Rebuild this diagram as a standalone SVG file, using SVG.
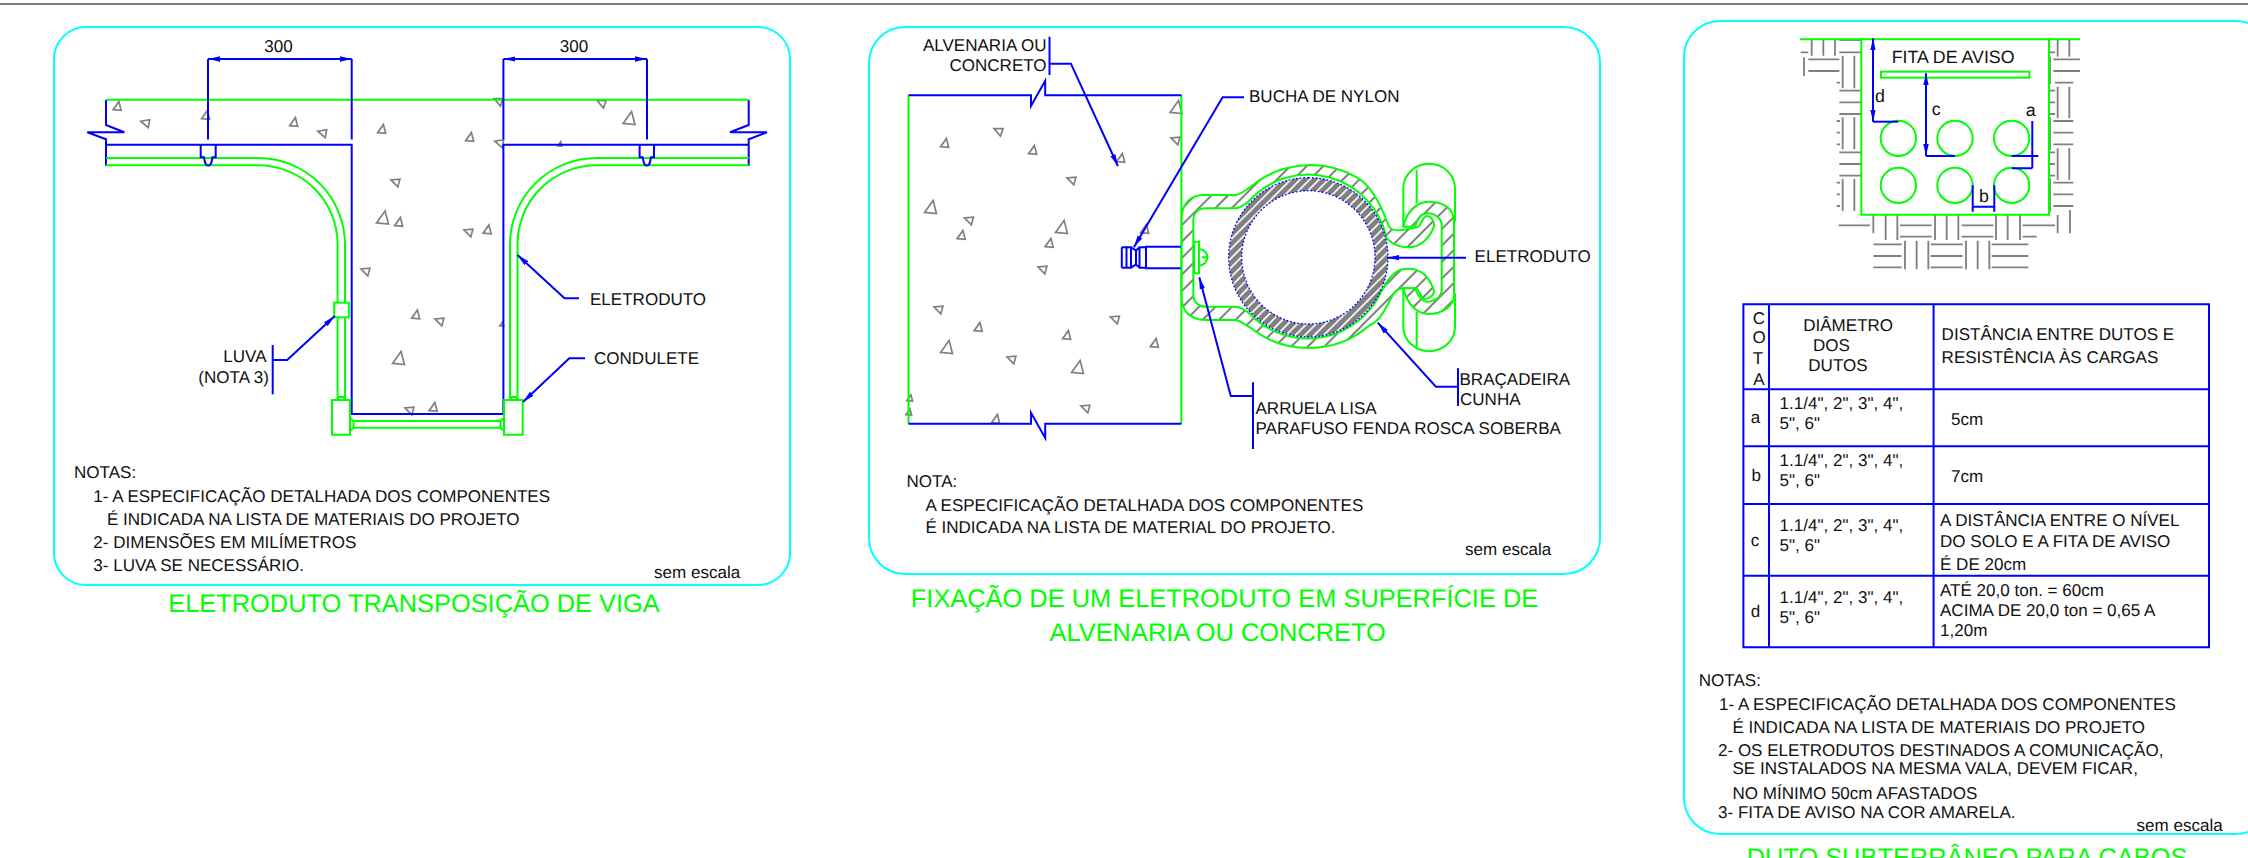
<svg xmlns="http://www.w3.org/2000/svg" width="2248" height="858" viewBox="0 0 2248 858">
<style>
text{font-family:"Liberation Sans",Arial,sans-serif;font-size:17.05px;fill:#111;text-rendering:geometricPrecision}
.ti{font-size:25.4px;fill:#00ff00}
.fa{font-size:17.8px}
.e{text-anchor:end}
.m{text-anchor:middle}
.pn{fill:none;stroke:#00ffff;stroke-width:2}
.b{fill:none;stroke:#0000ff;stroke-width:2}
.g{fill:none;stroke:#00ff00;stroke-width:2}
.gw{fill:#fff;stroke:#00ff00;stroke-width:2}
.ar{marker-end:url(#ah)}
.ar2{marker-start:url(#ah);marker-end:url(#ah)}
.tg use{fill:none;stroke:#808080;stroke-width:1.7;vector-effect:non-scaling-stroke}
#t{vector-effect:non-scaling-stroke}
</style>
<defs>
<marker id="ah" markerUnits="userSpaceOnUse" markerWidth="13" markerHeight="6" refX="12" refY="3" orient="auto-start-reverse"><path d="M0,0.3L12,3L0,5.7z" fill="#0000ff"/></marker>
<polygon id="t" points="-4,4 4,4 1,-4.5"/>
<pattern id="hs" patternUnits="userSpaceOnUse" width="35" height="35" patternTransform="rotate(45)"><rect width="35" height="35" fill="#fff"/><rect x="0" width="6" height="35" fill="#808080"/></pattern>
<pattern id="hd" patternUnits="userSpaceOnUse" width="20" height="20" patternTransform="rotate(45)"><rect width="20" height="20" fill="#808080"/><rect x="0" width="5" height="20" fill="#fff"/></pattern>
</defs>
<rect width="2248" height="858" fill="#fff"/>
<line x1="0" y1="4" x2="2248" y2="4" stroke="#808080" stroke-width="2"/>

<g id="viga">
<rect class="pn" x="54" y="27" width="736" height="558" rx="32" ry="32"/>
<g class="tg">
<use href="#t" transform="translate(117.5,106) rotate(5)"/>
<use href="#t" transform="translate(145,123) rotate(-80)"/>
<use href="#t" transform="translate(206,115) rotate(5)"/>
<use href="#t" transform="translate(294,122) rotate(5)"/>
<use href="#t" transform="translate(322,133) rotate(-80)"/>
<use href="#t" transform="translate(382,129) rotate(5)"/>
<use href="#t" transform="translate(470,137) rotate(5)"/>
<use href="#t" transform="translate(499,143) rotate(-80)"/>
<use href="#t" transform="translate(498,101) rotate(-70)"/>
<use href="#t" transform="translate(601,103) rotate(-70)"/>
<use href="#t" transform="translate(629.500,118) rotate(5) scale(1.5)"/>
<use href="#t" transform="translate(560,144) rotate(5) scale(.5)"/>
<use href="#t" transform="translate(395,182) rotate(-75)"/>
<use href="#t" transform="translate(383,217.500) rotate(5) scale(1.5)"/>
<use href="#t" transform="translate(399,222) rotate(5)"/>
<use href="#t" transform="translate(468,232) rotate(-75)"/>
<use href="#t" transform="translate(487.500,229.500) rotate(5)"/>
<use href="#t" transform="translate(365,271) rotate(-75)"/>
<use href="#t" transform="translate(416,314.500) rotate(5)"/>
<use href="#t" transform="translate(439,321) rotate(-75)"/>
<use href="#t" transform="translate(502,324) rotate(5) scale(.5)"/>
<use href="#t" transform="translate(399,358) rotate(5) scale(1.5)"/>
<use href="#t" transform="translate(409,410) rotate(-75)"/>
<use href="#t" transform="translate(433.500,407) rotate(5)"/>
</g>
<g id="viga-structure">
<path class="b" d="M106,100V125L124.300,132.300H87.300L106,139.300V165.700"/>
<path class="b" d="M748.700,100V125L730,132.300H767L748.700,139.300V165.700"/>
<path class="b" d="M106,144.700H351.700V414H503.400V144.700H748.700"/>
<line class="g" x1="106" y1="99.700" x2="748.700" y2="99.700"/>
</g>
<g id="viga-conduits">
<path class="g" d="M106,158H258.300A86.700,86.700 0 0 1 345,244.700V400"/>
<path class="g" d="M106,165.300H258.300A79.300,79.300 0 0 1 337.600,244.700V400"/>
<path class="g" d="M748.700,158H596.500A86.500,86.500 0 0 0 510,244.700V400"/>
<path class="g" d="M748.700,165.300H596.500A79,79 0 0 0 517.500,244.700V400"/>
<rect class="gw" x="334.200" y="302.700" width="14.600" height="14.600"/>
<path class="gw" d="M332,400H350V434.700H332Z"/>
<path class="g" d="M337,400L339,397H343L346,400"/>
<path class="gw" d="M504,400H522.700V434.700H504Z"/>
<path class="g" d="M509.500,400L512,397H515.500L518,400"/>
<path class="g" d="M350,418L353.500,421H500.500L504,418M350,431L353.500,427.700H500.500L504,431"/>
<path class="g" d="M353.500,421V427.700M500.500,421V427.700"/>
</g>
<g id="viga-anchors">
<path class="b" d="M200.700,144.700V157.300H204C205,162 205,165.500 208.200,165.500C211.500,165.500 211.500,162 212.500,157.300H215.700V144.700"/>
<path class="b" d="M639.600,144.700V157.300H642.700C643.700,162 643.700,165.500 646.800,165.500C650,165.500 650,162 651,157.300H654V144.700"/>
</g>
<g id="viga-dims">
<path class="b" d="M208,139.500V59M351.700,139.500V59M503.400,139.500V59M647,139.500V59"/>
<path class="b ar2" d="M208,59H351.700"/>
<path class="b ar2" d="M503.400,59H647"/>
<text class="m" x="278.500" y="52">300</text>
<text class="m" x="574" y="52">300</text>
</g>
<g id="viga-labels">
<path class="b ar" d="M579,298.300H564.500L517.500,255"/>
<text x="590" y="304.700">ELETRODUTO</text>
<path class="b ar" d="M585,358.300H569.300L523,402"/>
<text x="594" y="364">CONDULETE</text>
<path class="b" d="M272.700,345V394.300"/>
<path class="b ar" d="M272.700,360H287.200L334.700,316"/>
<text class="e" x="266.500" y="362.300">LUVA</text>
<text class="e" x="269" y="383">(NOTA 3)</text>
</g>
<g id="viga-notes">
<text x="74" y="477.700">NOTAS:</text>
<text x="93.300" y="501.700">1- A ESPECIFICAÇÃO DETALHADA DOS COMPONENTES</text>
<text x="107" y="525">É INDICADA NA LISTA DE MATERIAIS DO PROJETO</text>
<text x="93.300" y="548">2- DIMENSÕES EM MILÍMETROS</text>
<text x="93.300" y="571">3- LUVA SE NECESSÁRIO.</text>
<text x="654" y="577.700">sem escala</text>
</g>
<text class="ti m" x="414" y="612">ELETRODUTO TRANSPOSIÇÃO DE VIGA</text>
</g>

<g id="fixacao">
<rect class="pn" x="869" y="27" width="731" height="547" rx="36" ry="36"/>
<g class="tg">
<use href="#t" transform="translate(1176.500,107) rotate(5) scale(1.5)"/>
<use href="#t" transform="translate(1175,140) rotate(-75)"/>
<use href="#t" transform="translate(998,131) rotate(-70)"/>
<use href="#t" transform="translate(945,143) rotate(5)"/>
<use href="#t" transform="translate(1033,150) rotate(5)"/>
<use href="#t" transform="translate(1121,158) rotate(5)"/>
<use href="#t" transform="translate(1071,180) rotate(-75)"/>
<use href="#t" transform="translate(931,207) rotate(5) scale(1.5)"/>
<use href="#t" transform="translate(968.500,220) rotate(-75)"/>
<use href="#t" transform="translate(961.500,235) rotate(5)"/>
<use href="#t" transform="translate(1062,227) rotate(5) scale(1.5)"/>
<use href="#t" transform="translate(1049.500,243) rotate(5)"/>
<use href="#t" transform="translate(1042,269) rotate(-75)"/>
<use href="#t" transform="translate(1145,229) rotate(5)"/>
<use href="#t" transform="translate(938,309) rotate(-75)"/>
<use href="#t" transform="translate(978.500,327) rotate(5)"/>
<use href="#t" transform="translate(947,347) rotate(5) scale(1.5)"/>
<use href="#t" transform="translate(1114.500,319) rotate(-75)"/>
<use href="#t" transform="translate(1067,335) rotate(5)"/>
<use href="#t" transform="translate(1154.700,343) rotate(5)"/>
<use href="#t" transform="translate(1011,359) rotate(-75)"/>
<use href="#t" transform="translate(1078,367) rotate(5) scale(1.5)"/>
<use href="#t" transform="translate(1085,408) rotate(-75)"/>
<use href="#t" transform="translate(996,419) rotate(5)"/>
<use href="#t" transform="translate(910,398) rotate(5) scale(.7)"/>
<use href="#t" transform="translate(909,412) rotate(5) scale(.7)"/>
</g>
<g id="fixacao-wall">
<path class="g" d="M908.500,95.300V423.700M1181.400,95.300V423.700"/>
<path class="b" d="M908.500,95.300H1031V106L1045.200,80.700V95.300H1181.400"/>
<path class="b" d="M908.500,423.700H1031V412.700L1045.200,438V423.700H1181.400"/>
</g>
<g id="fixacao-anchor">
<path class="b" d="M1181.400,246.700H1146V268.300H1181.400"/>
<path class="b" d="M1121.800,247.300H1131L1136,250.500L1139.500,247.300H1146M1121.800,267.700H1131L1136,264.500L1139.500,267.700H1146M1121.800,247.300V267.700M1126.500,247.300V267.700M1131,247.300V267.700M1136,250.500V264.500M1139.500,247.300V267.700"/>
</g>
<g id="fixacao-clamp" transform="translate(1140,150) scale(.33333)">
<path d="M125,205C125,165 150,135 190,135L285,135C300,135 315,122 330,112A280,280 0 0 1 650,82C695,105 725,170 745,225C755,250 785,240 830,232C845,232 845,198 862,198C875,198 880,212 883,226C870,265 840,292 805,292C775,292 755,280 740,265A240,240 0 0 0 325,155C312,165 300,175 285,175L195,175C175,175 160,190 160,210L160,435C160,455 175,470 195,470L285,470C300,470 315,478 330,492A242,242 0 0 0 700,465C725,430 735,390 770,365C790,352 830,352 855,375C870,392 878,408 883,425C878,440 862,450 850,445C838,440 840,415 825,415L790,415C770,415 760,430 745,460C725,500 705,520 690,525A280,280 0 0 1 330,532C315,525 300,510 285,510L195,510C150,510 125,480 125,445Z" fill="url(#hs)" stroke="#00ff00" stroke-width="6"/>
<path d="M790,230C800,185 830,155 865,155C910,155 942,175 942,215L942,435C942,470 905,492 865,492C830,492 800,460 790,415L825,415C835,440 845,455 862,455C885,455 905,440 905,420L905,225C905,205 885,190 862,190C845,190 832,205 825,230Z" fill="url(#hs)" stroke="#00ff00" stroke-width="6"/>
<path d="M790,230V115A77,73 0 0 1 945,115V215M790,415V530A77,73 0 0 0 945,530V430M830,60V160M830,485V590" fill="none" stroke="#00ff00" stroke-width="6"/>
<path d="M505,83A239,239 0 1 1 504.900,83ZM505,122A200,200 0 1 0 505.100,122Z" fill="url(#hd)" fill-rule="evenodd" stroke="#0000ff" stroke-width="4" stroke-dasharray="5 6"/>
<path d="M162,275H177V370H162ZM177,297A25,25 0 0 1 177,347M185,322H203" fill="#fff" stroke="#00ff00" stroke-width="6"/>
</g>
<g id="fixacao-labels">
<path class="b" d="M1049.500,36.700V75"/>
<path class="b ar" d="M1049.500,63.700H1070.900L1117.900,166"/>
<text class="e" x="1046.600" y="51">ALVENARIA OU</text>
<text class="e" x="1046.600" y="71">CONCRETO</text>
<path class="b ar" d="M1244,97.300H1222.600L1133.900,247.300"/>
<text x="1249" y="101.700">BUCHA DE NYLON</text>
<path class="b ar" d="M1466,257.700H1387.400"/>
<text x="1474.600" y="262">ELETRODUTO</text>
<path class="b" d="M1458,368.300V406"/>
<path class="b ar" d="M1458,386.700H1435.900L1377.700,322.700"/>
<text x="1459.500" y="385.300">BRAÇADEIRA</text>
<text x="1460" y="405">CUNHA</text>
<path class="b" d="M1253,382.300V449"/>
<path class="b ar" d="M1253,396H1230.800L1199.300,277.300"/>
<text x="1255.500" y="414.300">ARRUELA LISA</text>
<text x="1255.500" y="434.300">PARAFUSO FENDA ROSCA SOBERBA</text>
</g>
<g id="fixacao-notes">
<text x="906.500" y="487.300">NOTA:</text>
<text x="925.400" y="511">A ESPECIFICAÇÃO DETALHADA DOS COMPONENTES</text>
<text x="925.400" y="533">É INDICADA NA LISTA DE MATERIAL DO PROJETO.</text>
<text x="1465" y="555">sem escala</text>
</g>
<text class="ti m" x="1224.500" y="607.300">FIXAÇÃO DE UM ELETRODUTO EM SUPERFÍCIE DE</text>
<text class="ti m" x="1217.700" y="641">ALVENARIA OU CONCRETO</text>
</g>

<g id="duto">
<rect class="pn" x="1684" y="21" width="588" height="813" rx="36" ry="36"/>
<g id="duto-section" transform="translate(1760,10) scale(.33333)">
<path fill="none" stroke="#808080" stroke-width="5.500" d="M122,127H145M155,90V137M190,90V137M225,90V137M238,90H305M238,127H305M132,142V198M145,148H238M145,183H238M248,137V235M283,137V235M230,218H240M238,242H305M238,277H305M238,312H305M248,322V418M283,322V418M230,333H240M230,368H240M230,403H240M238,427H305M238,462H305M238,497H305M248,507V603M283,507V603M230,518H240M230,553H240M230,588H240M236,646H330M340,615V670M377,615V690M412,615V690M420,646H515M420,680H515M525,615V690M560,615V690M595,615V690M605,646H700M605,680H700M708,615V690M743,615V690M780,615V690M788,646H885M788,680H830M893,615V670M930,600V670M340,703H425M340,738H425M340,772H425M435,692V778M470,692V778M505,692V778M512,703H608M512,738H608M512,772H608M618,692V778M653,692V778M688,692V778M695,703H805M695,738H805M695,772H805M893,90V140M928,90V140M868,127H885M880,148H960M880,183H960M885,218H940M870,140V222M893,230V325M928,230V325M868,242H885M868,277H885M868,312H885M880,333H940M880,368H940M880,403H940M870,322V420M893,415V510M928,415V510M868,427H885M868,462H885M868,497H885M880,518H940M880,553H940M880,588H940M870,505V605"/>
<path d="M120,88H960M304,88V614H867V88" fill="none" stroke="#00ff00" stroke-width="6"/>
<rect x="363" y="185" width="445" height="18" fill="none" stroke="#00ff00" stroke-width="6"/>
<g fill="none" stroke="#00ff00" stroke-width="6">
<circle cx="415" cy="385" r="53"/><circle cx="585" cy="385" r="53"/><circle cx="755" cy="385" r="53"/>
<circle cx="415" cy="526" r="53"/><circle cx="585" cy="526" r="53"/><circle cx="755" cy="526" r="53"/>
</g>
</g>
<g id="duto-dims">
<path class="b ar2" d="M1873,38.300V121.700"/>
<path class="b" d="M1873,121.700H1898.300"/>
<path class="b ar2" d="M1926,73.300V156"/>
<path class="b" d="M1926,156H1955"/>
<path class="b" d="M2032.300,121V168.300M2011.700,156H2038.300M2011.700,168.300H2032.300"/>
<path class="b" d="M1972.700,185.300V211.700M1994.300,185.300V211.700M1972.700,206.700H1994.300"/>
<text class="fa" x="1891.700" y="62.700">FITA DE AVISO</text>
<text class="fa" x="1875" y="101.700">d</text>
<text class="fa" x="1931.700" y="115">c</text>
<text class="fa" x="2025.700" y="116">a</text>
<text class="fa" x="1979" y="201.700">b</text>
</g>
<g id="duto-table">
<path class="b" d="M1743.400,304.300H2209V647.300H1743.400ZM1769,304.300V647.300M1933.600,304.300V647.300M1743.400,389.300H2209M1743.400,446.300H2209M1743.400,504H2209M1743.400,575.700H2209"/>
<text class="m" x="1759" y="324">C</text>
<text class="m" x="1759" y="343.300">O</text>
<text class="m" x="1758" y="364">T</text>
<text class="m" x="1759" y="385">A</text>
<text x="1803.200" y="330.700">DIÂMETRO</text>
<text x="1813" y="350.700">DOS</text>
<text x="1808.300" y="371">DUTOS</text>
<text x="1941.600" y="340">DISTÂNCIA ENTRE DUTOS E</text>
<text x="1941.600" y="362.700">RESISTÊNCIA ÀS CARGAS</text>
<text x="1750.700" y="422.700">a</text>
<text x="1779.600" y="409.300">1.1/4", 2", 3", 4",</text>
<text x="1779.600" y="429.300">5", 6"</text>
<text x="1951" y="425">5cm</text>
<text x="1751.500" y="481">b</text>
<text x="1779.600" y="466">1.1/4", 2", 3", 4",</text>
<text x="1779.600" y="486">5", 6"</text>
<text x="1951" y="481.700">7cm</text>
<text x="1750.700" y="546">c</text>
<text x="1779.600" y="531">1.1/4", 2", 3", 4",</text>
<text x="1779.600" y="551">5", 6"</text>
<text x="1940" y="526">A DISTÂNCIA ENTRE O NÍVEL</text>
<text x="1940" y="547.300">DO SOLO E A FITA DE AVISO</text>
<text x="1940" y="570">É DE 20cm</text>
<text x="1750.700" y="616.700">d</text>
<text x="1779.600" y="602.700">1.1/4", 2", 3", 4",</text>
<text x="1779.600" y="622.700">5", 6"</text>
<text x="1940" y="596">ATÉ 20,0 ton. = 60cm</text>
<text x="1940" y="616">ACIMA DE 20,0 ton = 0,65 A</text>
<text x="1940" y="636">1,20m</text>
</g>
<g id="duto-notes">
<text x="1698.800" y="686">NOTAS:</text>
<text x="1719" y="710">1- A ESPECIFICAÇÃO DETALHADA DOS COMPONENTES</text>
<text x="1732.500" y="732.700">É INDICADA NA LISTA DE MATERIAIS DO PROJETO</text>
<text x="1718" y="756">2- OS ELETRODUTOS DESTINADOS A COMUNICAÇÃO,</text>
<text x="1732.500" y="774">SE INSTALADOS NA MESMA VALA, DEVEM FICAR,</text>
<text x="1732.500" y="799">NO MÍNIMO 50cm AFASTADOS</text>
<text x="1718" y="818.300">3- FITA DE AVISO NA COR AMARELA.</text>
<text x="2136.500" y="830.700">sem escala</text>
</g>
<text class="ti m" x="1967" y="866">DUTO SUBTERRÂNEO PARA CABOS</text>
</g>
</svg>
